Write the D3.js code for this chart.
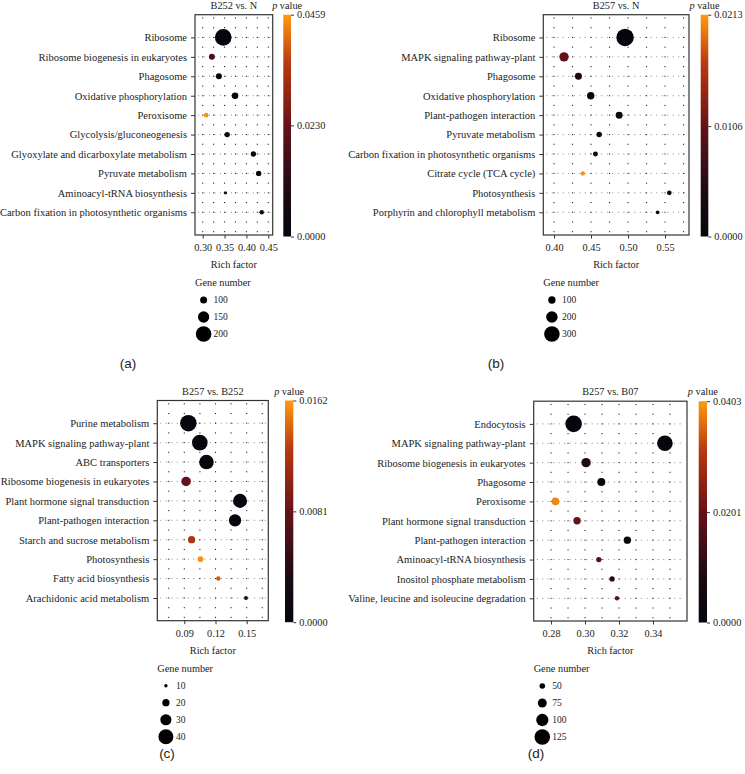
<!DOCTYPE html>
<html>
<head>
<meta charset="utf-8">
<script src="https://cdn.jsdelivr.net/npm/d3@7"></script>
<style>
  body { margin: 0; background: #fff; }
  svg text { font-family: "Liberation Serif", "DejaVu Serif", serif; fill: #222; }
</style>
</head>
<body>
<div id="chart"></div>
<script>
// ---- data ----
var termsA = ["Ribosome", "Ribosome biogenesis in eukaryotes", "Phagosome", "Oxidative phosphorylation",
  "Peroxisome", "Glycolysis/gluconeogenesis", "Glyoxylate and dicarboxylate metabolism",
  "Pyruvate metabolism", "Aminoacyl-tRNA biosynthesis", "Carbon fixation in photosynthetic organisms"];
var richA = [0.347, 0.321, 0.337, 0.374, 0.308, 0.356, 0.416, 0.428, 0.352, 0.435];
var genesA = [212, 88, 88, 95, 72, 81, 81, 81, 58, 70];
var pA = [0.0001, 0.018, 0.001, 0.0005, 0.045, 0.001, 0.001, 0.001, 0.007, 0.002];
var pTicksA = ["0.0000", "0.0230", "0.0459"];
var xTicksA = [0.30, 0.35, 0.40, 0.45];
var legendA = [100, 150, 200];

var termsB = ["Ribosome", "MAPK signaling pathway-plant", "Phagosome", "Oxidative phosphorylation",
  "Plant-pathogen interaction", "Pyruvate metabolism", "Carbon fixation in photosynthetic organisms",
  "Citrate cycle (TCA cycle)", "Photosynthesis", "Porphyrin and chlorophyll metabolism"];
var richB = [0.496, 0.4135, 0.433, 0.4496, 0.488, 0.461, 0.456, 0.4388, 0.5558, 0.540];
var genesB = [344, 149, 90, 100, 90, 51, 41, 27, 32, 10];
var pB = [0.0001, 0.0105, 0.004, 0.0005, 0.001, 0.001, 0.0035, 0.0209, 0.0005, 0.001];
var pTicksB = ["0.0000", "0.0106", "0.0213"];
var xTicksB = [0.40, 0.45, 0.50, 0.55];
var legendB = [100, 200, 300];

var termsC = ["Purine metabolism", "MAPK signaling pathway-plant", "ABC transporters",
  "Ribosome biogenesis in eukaryotes", "Plant hormone signal transduction", "Plant-pathogen interaction",
  "Starch and sucrose metabolism", "Photosynthesis", "Fatty acid biosynthesis", "Arachidonic acid metabolism"];
var richC = [0.0939, 0.1049, 0.1113, 0.0917, 0.1436, 0.1388, 0.0970, 0.1056, 0.1227, 0.1493];
var genesC = [44, 41.6, 39, 26, 37.5, 33, 20, 15.7, 12.6, 11.5];
var pC = [0.0001, 0.0001, 0.0001, 0.0081, 0.0001, 0.0002, 0.0121, 0.0159, 0.0138, 0.003];
var pTicksC = ["0.0000", "0.0081", "0.0162"];
var xTicksC = [0.09, 0.12, 0.15];
var legendC = [10, 20, 30, 40];

var termsD = ["Endocytosis", "MAPK signaling pathway-plant", "Ribosome biogenesis in eukaryotes", "Phagosome",
  "Peroxisome", "Plant hormone signal transduction", "Plant-pathogen interaction",
  "Aminoacyl-tRNA biosynthesis", "Inositol phosphate metabolism", "Valine, leucine and isoleucine degradation"];
var richD = [0.2933, 0.347, 0.3006, 0.3096, 0.2826, 0.2953, 0.3249, 0.3081, 0.3159, 0.3188];
var genesD = [132, 125, 78, 68, 65, 63, 63, 48, 48, 41];
var pD = [0.0001, 0.0001, 0.009, 0.001, 0.0385, 0.02, 0.001, 0.018, 0.01, 0.02];
var pTicksD = ["0.0000", "0.0201", "0.0403"];
var xTicksD = [0.28, 0.30, 0.32, 0.34];
var legendD = [50, 75, 100, 125];

var panels = [
  {lab: "(a)", title: "B252 vs. N", terms: termsA, rich: richA, genes: genesA, p: pA, pTicks: pTicksA,
   xTicks: xTicksA, legend: legendA, dom: [0.2824, 0.4601], grid: 0.025, rr: [3.5, 7.8],
   x0: 195, x1: 272.7, y0: 14.7, y1: 235, bx: 283.3, bw: 7.7, labX: 128, labY: 368},
  {lab: "(b)", title: "B257 vs. N", terms: termsB, rich: richB, genes: genesB, p: pB, pTicks: pTicksB,
   xTicks: xTicksB, legend: legendB, dom: [0.3855, 0.5824], grid: 0.025, rr: [3.7, 7.8],
   x0: 543.3, x1: 689, y0: 14.7, y1: 235, bx: 700.7, bw: 7.6, labX: 496, labY: 368},
  {lab: "(c)", title: "B257 vs. B252", terms: termsC, rich: richC, genes: genesC, p: pC, pTicks: pTicksC,
   xTicks: xTicksC, legend: legendC, dom: [0.064, 0.1708], grid: 0.015, rr: [1.7, 7.5],
   x0: 157.3, x1: 268.3, y0: 400.5, y1: 620.7, bx: 285, bw: 8.3, labX: 167, labY: 758},
  {lab: "(d)", title: "B257 vs. B07", terms: termsD, rich: richD, genes: genesD, p: pD, pTicks: pTicksD,
   xTicks: xTicksD, legend: legendD, dom: [0.2698, 0.36], grid: 0.01, rr: [2.8, 7.8],
   x0: 533.7, x1: 687, y0: 401.2, y1: 621, bx: 698.7, bw: 8.3, labX: 536, labY: 758}
];

var W = 745, H = 774;
var svg = d3.select("#chart").append("svg").attr("width", W).attr("height", H);

var defs = svg.append("defs");
var stops = [[0, "#06050e"], [0.2, "#1a0a14"], [0.5, "#661219"], [0.78, "#b8390f"], [1, "#ff9a12"]];
var grad = defs.append("linearGradient").attr("id", "pgrad")
  .attr("x1", 0).attr("y1", 1).attr("x2", 0).attr("y2", 0);
stops.forEach(function(s) {
  grad.append("stop").attr("offset", s[0]).attr("stop-color", s[1]);
});
var colorT = d3.scaleLinear().domain(stops.map(function(s){ return s[0]; }))
  .range(stops.map(function(s){ return s[1]; })).clamp(true);

var FS = "10.3px";

panels.forEach(function(P) {
  var g = svg.append("g");
  var x = d3.scaleLinear().domain(P.dom).range([P.x0, P.x1]);
  var y = d3.scalePoint().domain(P.terms).range([P.y0, P.y1]).padding(1.17);
  var step = y.step();
  var pMax = +P.pTicks[2];
  var r = d3.scaleLinear().domain([P.legend[0], P.legend[P.legend.length - 1]]).range(P.rr);

  // dotted grid
  var gx = [];
  for (var v = Math.ceil(P.dom[0] / P.grid) * P.grid; v < P.dom[1]; v += P.grid) {
    if (x(v) - P.x0 > 3 && P.x1 - x(v) > 3) gx.push(v);
  }
  var gy = [];
  var yy = y(P.terms[0]);
  while (yy - step / 2 > P.y0 + 2) yy -= step / 2;
  for (; yy < P.y1 - 2; yy += step / 2) gy.push(yy);
  g.append("g").selectAll("line").data(P.terms).enter().append("line")
    .attr("x1", P.x0 + 3).attr("x2", P.x1 - 2)
    .attr("y1", function(d){ return y(d); }).attr("y2", function(d){ return y(d); })
    .attr("stroke", "#555").attr("stroke-width", 0.7).attr("stroke-dasharray", "1,4.5");
  var pts = [];
  gx.forEach(function(a){ gy.forEach(function(b){ pts.push([a, b]); }); });
  g.append("g").selectAll("rect").data(pts).enter().append("rect")
    .attr("x", function(d){ return x(d[0]) - 0.55; })
    .attr("y", function(d){ return d[1] - 0.55; })
    .attr("width", 1.1).attr("height", 1.1).attr("fill", "#222");

  // frame
  g.append("rect").attr("x", P.x0).attr("y", P.y0)
    .attr("width", P.x1 - P.x0).attr("height", P.y1 - P.y0)
    .attr("fill", "none").attr("stroke", "#333").attr("stroke-width", 1.2);

  // bubbles
  var data = P.terms.map(function(t, i) {
    return {term: t, rich: P.rich[i], genes: P.genes[i], p: P.p[i]};
  });
  g.append("g").selectAll("circle").data(data).enter().append("circle")
    .attr("cx", function(d){ return x(d.rich); })
    .attr("cy", function(d){ return y(d.term); })
    .attr("r", function(d){ return r(d.genes); })
    .attr("fill", function(d){ return colorT(d.p / pMax); });

  // y axis
  var ya = g.append("g").attr("transform", "translate(" + P.x0 + ",0)")
    .call(d3.axisLeft(y).tickSize(4).tickPadding(4));
  ya.select(".domain").remove();
  ya.selectAll("line").attr("stroke", "#333").attr("stroke-width", 1);
  ya.selectAll("text").style("font-size", "10.5px").style("font-family", "Liberation Serif");

  // x axis
  var xa = g.append("g").attr("transform", "translate(0," + P.y1 + ")")
    .call(d3.axisBottom(x).tickValues(P.xTicks).tickFormat(d3.format(".2f")).tickSize(3.5).tickPadding(5));
  xa.select(".domain").remove();
  xa.selectAll("line").attr("stroke", "#333").attr("stroke-width", 1);
  xa.selectAll("text").style("font-size", FS).style("font-family", "Liberation Serif");

  var cx = (P.x0 + P.x1) / 2;
  g.append("text").attr("x", cx).attr("y", P.y0 - 6).attr("text-anchor", "middle")
    .style("font-size", FS).text(P.title);
  g.append("text").attr("x", cx).attr("y", P.y1 + 33).attr("text-anchor", "middle")
    .style("font-size", FS).text("Rich factor");

  // colour bar
  var pbar = d3.scaleLinear().domain([0, pMax]).range([P.y1 + 1.5, P.y0]);
  g.append("rect").attr("x", P.bx).attr("y", P.y0).attr("width", P.bw)
    .attr("height", P.y1 + 1.5 - P.y0).attr("fill", "url(#pgrad)");
  var ba = g.append("g").attr("transform", "translate(" + (P.bx + P.bw) + ",0)")
    .call(d3.axisRight(pbar).tickValues(P.pTicks.map(Number)).tickFormat(d3.format(".4f"))
      .tickSize(3).tickPadding(3));
  ba.select(".domain").remove();
  ba.selectAll("line").attr("stroke", "#333");
  ba.selectAll("text").style("font-size", FS).style("font-family", "Liberation Serif");
  var pv = g.append("text").attr("x", P.bx + P.bw / 2).attr("y", P.y0 - 6)
    .attr("text-anchor", "middle").style("font-size", FS);
  pv.append("tspan").style("font-style", "italic").text("p");
  pv.append("tspan").text(" value");

  // size legend
  g.append("text").attr("x", P.x0).attr("y", P.y1 + 51).style("font-size", FS).text("Gene number");
  var lg = g.append("g").selectAll("g").data(P.legend).enter().append("g")
    .attr("transform", function(d, i){ return "translate(" + (P.x0 + 8.6) + "," + (P.y1 + 65 + i * 17) + ")"; });
  lg.append("circle").attr("r", function(d){ return r(d); }).attr("fill", "#000");
  lg.append("text").attr("x", 10).attr("dy", "0.33em").style("font-size", "9.5px").text(function(d){ return d; });

  g.append("text").attr("x", P.labX).attr("y", P.labY).attr("text-anchor", "middle")
    .style("font-family", "Liberation Sans, sans-serif").style("font-size", "13.5px").text(P.lab);
});
</script>
</body>
</html>
